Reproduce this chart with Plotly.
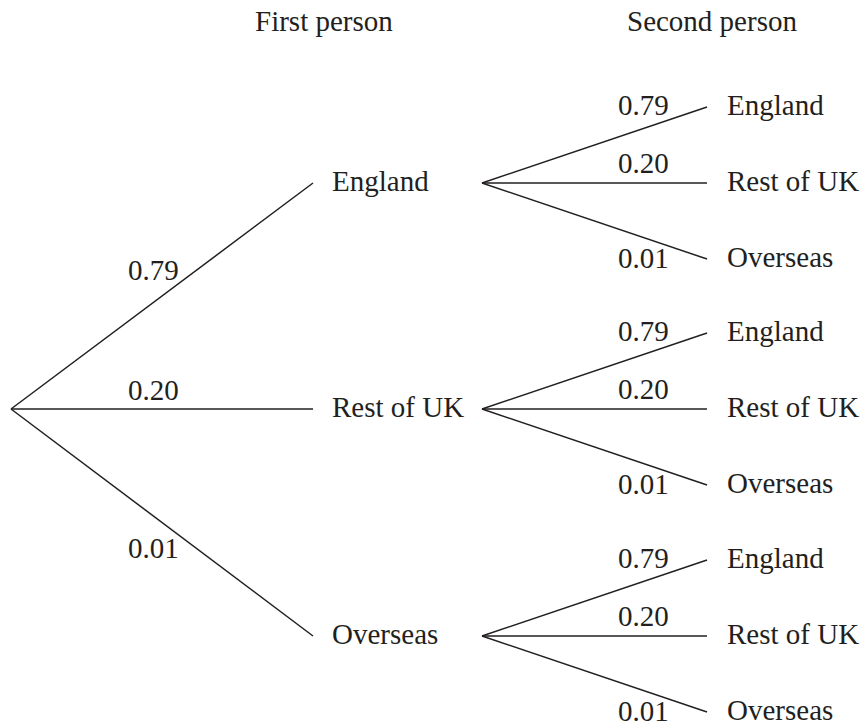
import plotly.graph_objects as go

# ---- data ----
outcomes = ["England", "Rest of UK", "Overseas"]
probabilities = [0.79, 0.20, 0.01]
stage_titles = ["First person", "Second person"]

# ---- layout parameters (pixels) ----
W, H = 861, 725
root = (11, 409)
lvl1_x_end = 313
lvl1_y = [183, 409, 636]
lvl1_label_x = 330
lvl2_x_start = 482
lvl2_x_end = 707
lvl2_offsets = [-76, 0, 76]
lvl2_label_x = 725
FONT = "Liberation Serif, Times New Roman, serif"
FS = 29
COLOR = "#231f20"

fig = go.Figure()
xs, ys = [], []
# first level branches
for y in lvl1_y:
    xs += [root[0], lvl1_x_end, None]
    ys += [root[1], y, None]
# second level branches
for y in lvl1_y:
    for off in lvl2_offsets:
        xs += [lvl2_x_start, lvl2_x_end, None]
        ys += [y, y + off, None]
fig.add_trace(go.Scatter(x=xs, y=ys, mode="lines",
                         line=dict(color=COLOR, width=1.5),
                         hoverinfo="skip", showlegend=False))

ann = []
def txt(x, y, s, xanchor="left"):
    ann.append(dict(x=x, y=y, text=s, showarrow=False, xanchor=xanchor,
                    yanchor="middle", xref="x", yref="y",
                    font=dict(family=FONT, size=FS, color=COLOR)))

# titles
txt(324, 21, stage_titles[0], "center")
txt(712, 21, stage_titles[1], "center")

# first level labels
for name, y in zip(outcomes, lvl1_y):
    txt(lvl1_label_x, y - 2, name)
lvl1_prob_y = [270, 390, 548]
for p, y in zip(probabilities, lvl1_prob_y):
    txt(153, y, f"{p:.2f}", "center")

# second level labels
prob2_dy = [-76, -18, 77]
for y in lvl1_y:
    for name, off, p, dy in zip(outcomes, lvl2_offsets, probabilities, prob2_dy):
        txt(lvl2_label_x, y + off - 2, name)
        txt(643, y + dy - 2, f"{p:.2f}", "center")

fig.update_layout(
    width=W, height=H, margin=dict(l=0, r=0, t=0, b=0),
    paper_bgcolor="white", plot_bgcolor="white",
    xaxis=dict(range=[0, W], visible=False, fixedrange=True),
    yaxis=dict(range=[H, 0], visible=False, fixedrange=True),
    annotations=ann,
)
fig.write_html("out.html", config={"displayModeBar": False})

# remove default page margin so the figure sits at the window's top-left
with open("out.html", encoding="utf-8") as f:
    html = f.read()
html = html.replace("<head>", "<head><style>html,body{margin:0;padding:0;overflow:hidden;}</style>", 1)
with open("out.html", "w", encoding="utf-8") as f:
    f.write(html)
